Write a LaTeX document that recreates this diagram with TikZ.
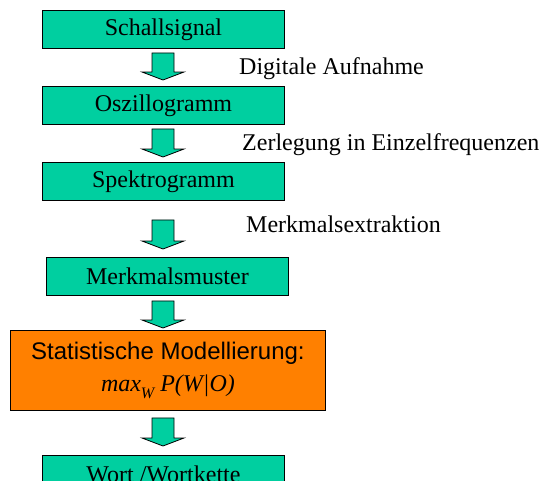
\documentclass[tikz,border=0pt]{standalone}
\usepackage{fontspec}
\setmainfont{Liberation Serif}
\setsansfont{Liberation Sans}
\usetikzlibrary{calc}
\definecolor{boxgreen}{RGB}{0,207,160}
\definecolor{boxorange}{RGB}{255,128,0}
\newcommand\blockdown[4]{%
  \draw[blockarrow] let \p1=(#1.south), \p2=(#2.north) in
    (152,\y1-#3pt) -- (174,\y1-#3pt) -- (174,\y2+#4pt+8pt) -- (184,\y2+#4pt+8pt)
    -- (163,\y2+#4pt) -- (142,\y2+#4pt+8pt) -- (152,\y2+#4pt+8pt) -- cycle;}
\begin{document}
\begin{tikzpicture}[x=1pt,y=1pt,
  stepbox/.style={draw=black, line width=0.9pt, fill=boxgreen, minimum width=242pt,
    minimum height=38pt, inner sep=0pt, anchor=north west, font=\fontsize{24}{28}\selectfont},
  modelbox/.style={draw=black, line width=0.9pt, fill=boxorange, minimum width=315pt,
    minimum height=80pt, inner sep=0pt, anchor=north west, align=center,
    font=\fontsize{24}{32}\selectfont},
  blockarrow/.style={draw=black, line width=0.8pt, fill=boxgreen},
  lbl/.style={inner sep=0pt, anchor=base west, font=\fontsize{24}{28}\selectfont}]
\clip (0,0) rectangle (549,-480);
\useasboundingbox (0,0) rectangle (549,-480);
\node[stepbox] (b1) at (42,-10) {Schallsignal};
\node[stepbox] (b2) at (42,-86) {Oszillogramm};
\node[stepbox] (b3) at (42,-162) {Spektrogramm};
\node[stepbox] (b4) at (46,-257) {Merkmalsmuster};
\node[modelbox] (b5) at (10,-330) {{\sffamily Statistische Modellierung:}\\
  {\itshape max\raisebox{-0.3em}{\fontsize{16}{16}\selectfont W} P(W|O)}};
\node[stepbox] (b6) at (42,-455) {Wort /Wortkette};
\blockdown{b1}{b2}{4}{6}
\blockdown{b2}{b3}{4}{5}
\blockdown{b3}{b4}{19}{8}
\blockdown{b4}{b5}{5}{2}
\blockdown{b5}{b6}{7}{9}
\node[lbl] (l1) at (239,-74) {Digitale Aufnahme};
\node[lbl] (l2) at (242,-150) {Zerlegung in Einzelfrequenzen};
\node[lbl] (l3) at (246,-232) {Merkmalsextraktion};
\end{tikzpicture}
\end{document}
